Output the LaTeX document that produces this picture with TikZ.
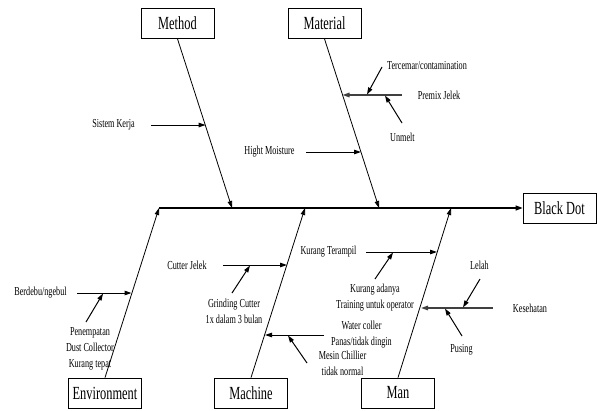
\documentclass[tikz,border=0pt]{standalone}
\usepackage{fontspec}
\newfontfamily\condserif[FakeStretch=0.67]{Liberation Serif}
\usetikzlibrary{arrows.meta}
\tikzset{
  box/.style={draw, line width=0.8pt, minimum width=73pt, minimum height=30pt, inner sep=0pt,
    font={\condserif\fontsize{18.5}{20}\selectfont}},
  lbl/.style={inner sep=0pt, align=center, font={\condserif\fontsize{12.2}{16}\selectfont}},
  bone/.style={line width=0.8pt, -{Triangle[length=7pt,width=4.5pt]}},
  spine/.style={line width=1.3pt, -{Triangle[length=7pt,width=5pt]}},
  sub/.style={line width=1pt, -{Triangle[length=7pt,width=4.5pt]}},
  subg/.style={line width=1.4pt, draw=black!75, -{Triangle[length=7pt,width=4.5pt]}},
}
\begin{document}
\begin{tikzpicture}[x=1pt,y=-1pt]
\useasboundingbox (0,0) rectangle (599,410);
% category boxes
\node[box] (method) at (177.5,23.5) {Method};
\node[box] (material) at (324.5,23.5) {Material};
\node[box] (blackdot) at (559.5,208) {Black Dot};
\node[box] (env) at (105,393) {Environment};
\node[box] (machine) at (251,393) {Machine};
\node[box] (man) at (398,393) {Man};
% joints on the spine
\coordinate (jenv) at (159,208);
\coordinate (jmeth) at (232,208);
\coordinate (jmac) at (305,208);
\coordinate (jmat) at (379,208);
\coordinate (jman) at (451,208);
% spine and bones
\draw[spine] (jenv) -- (blackdot.west);
\draw[bone] (method.south) -- (jmeth);
\draw[bone] (material.south) -- (jmat);
\draw[bone] (env.north) -- (jenv);
\draw[bone] (machine.north) -- (jmac);
\draw[bone] (man.north) -- (jman);
% Method
\node[lbl] (sk) at (113.5,125) {Sistem Kerja};
\coordinate (sk1) at (151,125); \coordinate (sk2) at (205.6,125);
\draw[sub] (sk1) -- (sk2);
% Material
\node[lbl] (hm) at (269.5,152) {Hight Moisture};
\coordinate (hm1) at (306,152); \coordinate (hm2) at (361,152);
\draw[sub] (hm1) -- (hm2);
\node[lbl] (pj) at (439,95) {Premix Jelek};
\coordinate (pj1) at (402,95); \coordinate (pj2) at (342.5,95);
\draw[subg] (pj1) -- (pj2);
\node[lbl] (tc) at (427,66) {Tercemar/contamination};
\coordinate (tc1) at (382,67); \coordinate (tc2) at (367,94.5);
\draw[sub] (tc1) -- (tc2);
\node[lbl] (um) at (402.5,137) {Unmelt};
\coordinate (um1) at (402,123); \coordinate (um2) at (385,95.5);
\draw[sub] (um1) -- (um2);
% Environment
\node[lbl] (bd) at (40.5,293) {Berdebu/ngebul};
\coordinate (bd1) at (77,293); \coordinate (bd2) at (131.5,293);
\draw[sub] (bd1) -- (bd2);
\node[lbl] (pe) at (90,349) {Penempatan\\Dust Collector\\Kurang tepat};
\coordinate (pe1) at (86,322); \coordinate (pe2) at (103,293.5);
\draw[sub] (pe1) -- (pe2);
% Machine
\node[lbl] (cj) at (187,265) {Cutter Jelek};
\coordinate (cj1) at (223,265); \coordinate (cj2) at (287,265);
\draw[sub] (cj1) -- (cj2);
\node[lbl] (gc) at (234,311.5) {Grinding Cutter\\1x dalam 3 bulan};
\coordinate (gc1) at (232,293); \coordinate (gc2) at (250,265.5);
\draw[sub] (gc1) -- (gc2);
\node[lbl] (wc) at (361.5,335) {Water coller\\Panas/tidak dingin};
\coordinate (wc1) at (324,335); \coordinate (wc2) at (265,335);
\draw[sub] (wc1) -- (wc2);
\node[lbl] (mc) at (342.5,363) {Mesin Chillier\\tidak normal};
\coordinate (mc1) at (307,363); \coordinate (mc2) at (288,335.5);
\draw[sub] (mc1) -- (mc2);
% Man
\node[lbl] (kt) at (328.5,252) {Kurang Terampil};
\coordinate (kt1) at (366,252); \coordinate (kt2) at (437,252);
\draw[sub] (kt1) -- (kt2);
\node[lbl] (ka) at (375,298) {Kurang adanya\\Training untuk operator};
\coordinate (ka1) at (375,279); \coordinate (ka2) at (393,252.5);
\draw[sub] (ka1) -- (ka2);
\node[lbl] (ks) at (530,308) {Kesehatan};
\coordinate (ks1) at (493,308); \coordinate (ks2) at (421,308);
\draw[subg] (ks1) -- (ks2);
\node[lbl] (le) at (479.5,265) {Lelah};
\coordinate (le1) at (480,279); \coordinate (le2) at (463,307.5);
\draw[sub] (le1) -- (le2);
\node[lbl] (pu) at (461.5,350) {Pusing};
\coordinate (pu1) at (462,336); \coordinate (pu2) at (445,308.5);
\draw[sub] (pu1) -- (pu2);
\end{tikzpicture}
\end{document}
